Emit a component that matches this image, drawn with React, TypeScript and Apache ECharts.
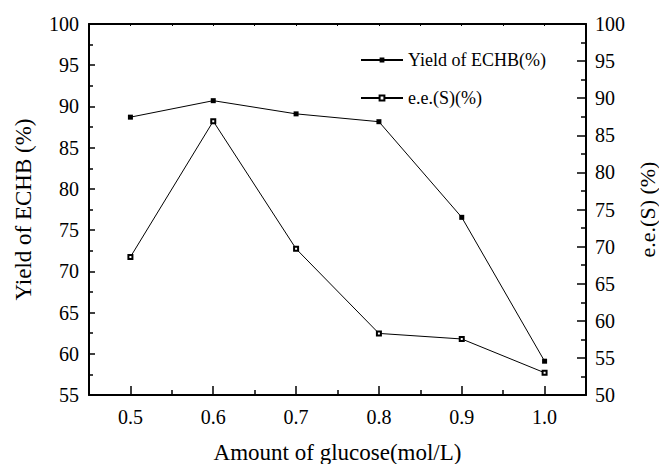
import React, { useEffect, useRef } from "react";
import * as echarts from "echarts";

const glucose = [0.5, 0.6, 0.7, 0.8, 0.9, 1.0];
const yieldECHB = [88.7, 90.7, 89.1, 88.15, 76.55, 59.1];
const eeS = [68.6, 86.9, 69.7, 58.3, 57.55, 53.0];
const xMajorTicks = [0.5, 0.6, 0.7, 0.8, 0.9, 1.0];
const xMinorTicks = [0.55, 0.65, 0.75, 0.85, 0.95];

const FONT = "Liberation Serif";

export default function App() {
  const ref = useRef<HTMLDivElement>(null);
  useEffect(() => {
    if (!ref.current) return;
    const chart = echarts.init(ref.current, undefined, { renderer: "svg" });
    const axisLine = { show: true, lineStyle: { color: "#000", width: 2 } };
    const labelStyle = { fontFamily: FONT, fontSize: 20, color: "#000" };
    chart.setOption({
      animation: false,
      backgroundColor: "#fff",
      textStyle: { fontFamily: FONT, color: "#000" },
      grid: {
        left: 89,
        right: 73,
        top: 24,
        bottom: 69,
        containLabel: false,
        outerBoundsMode: "none",
      },
      legend: {
        orient: "vertical",
        left: 355,
        top: 46,
        itemWidth: 42,
        itemHeight: 6,
        itemGap: 20,
        textStyle: { fontFamily: FONT, fontSize: 18, color: "#000" },
        data: ["Yield of ECHB(%)", "e.e.(S)(%)"],
      },
      xAxis: [
        {
          type: "value",
          position: "bottom",
          min: 0.45,
          max: 1.05,
          name: "Amount of glucose(mol/L)",
          nameLocation: "middle",
          nameGap: 46,
          nameTextStyle: { fontFamily: FONT, fontSize: 23, color: "#000" },
          axisLine,
          splitLine: { show: false },
          axisTick: {
            show: true,
            inside: true,
            length: 9,
            customValues: xMajorTicks,
            lineStyle: { color: "#000", width: 1.5 },
          },
          axisLabel: {
            ...labelStyle,
            customValues: xMajorTicks,
            formatter: (v: number) => v.toFixed(1),
            margin: 12,
          },
        },
        {
          type: "value",
          position: "bottom",
          min: 0.45,
          max: 1.05,
          axisLine: { show: false },
          splitLine: { show: false },
          axisLabel: { show: false },
          axisTick: {
            show: true,
            inside: true,
            length: 5,
            customValues: xMinorTicks,
            lineStyle: { color: "#000", width: 1.5 },
          },
        },
        {
          type: "value",
          position: "top",
          min: 0.45,
          max: 1.05,
          interval: 0.05,
          axisLine,
          splitLine: { show: false },
          axisLabel: { show: false },
          axisTick: { show: true, inside: true, length: 2, lineStyle: { color: "#000", width: 1 } },
        },
      ],
      yAxis: [
        {
          type: "value",
          position: "left",
          min: 55,
          max: 100,
          interval: 5,
          name: "Yield of ECHB (%)",
          nameLocation: "middle",
          nameGap: 54,
          nameTextStyle: { fontFamily: FONT, fontSize: 23, color: "#000" },
          axisLine,
          splitLine: { show: false },
          axisTick: { show: true, inside: true, length: 6, lineStyle: { color: "#000", width: 1.5 } },
          minorTick: { show: true, splitNumber: 2, length: 4, lineStyle: { color: "#000", width: 1.5 } },
          axisLabel: { ...labelStyle, margin: 10 },
        },
        {
          type: "value",
          position: "right",
          min: 50,
          max: 100,
          interval: 5,
          name: "e.e.(S) (%)",
          nameLocation: "middle",
          nameGap: 50,
          nameRotate: 90,
          nameTextStyle: { fontFamily: FONT, fontSize: 22, color: "#000" },
          axisLine,
          splitLine: { show: false },
          axisTick: { show: true, inside: true, length: 9, lineStyle: { color: "#000", width: 1.5 } },
          minorTick: { show: true, splitNumber: 2, length: 5, lineStyle: { color: "#000", width: 1.5 } },
          axisLabel: { ...labelStyle, margin: 9 },
        },
      ],
      series: [
        {
          name: "Yield of ECHB(%)",
          type: "line",
          xAxisIndex: 0,
          yAxisIndex: 0,
          data: glucose.map((x, i) => [x, yieldECHB[i]]),
          symbol: "rect",
          symbolSize: 5,
          itemStyle: { color: "#000" },
          lineStyle: { color: "#000", width: 1 },
        },
        {
          name: "e.e.(S)(%)",
          type: "line",
          xAxisIndex: 0,
          yAxisIndex: 1,
          data: glucose.map((x, i) => [x, eeS[i]]),
          symbol: "emptyRect",
          symbolSize: 4,
          itemStyle: { color: "#000", borderWidth: 1 },
          lineStyle: { color: "#000", width: 1 },
        },
      ],
    });
    return () => chart.dispose();
  }, []);
  return <div ref={ref} style={{ width: 659, height: 464, position: "fixed", left: 0, top: 0 }} />;
}
